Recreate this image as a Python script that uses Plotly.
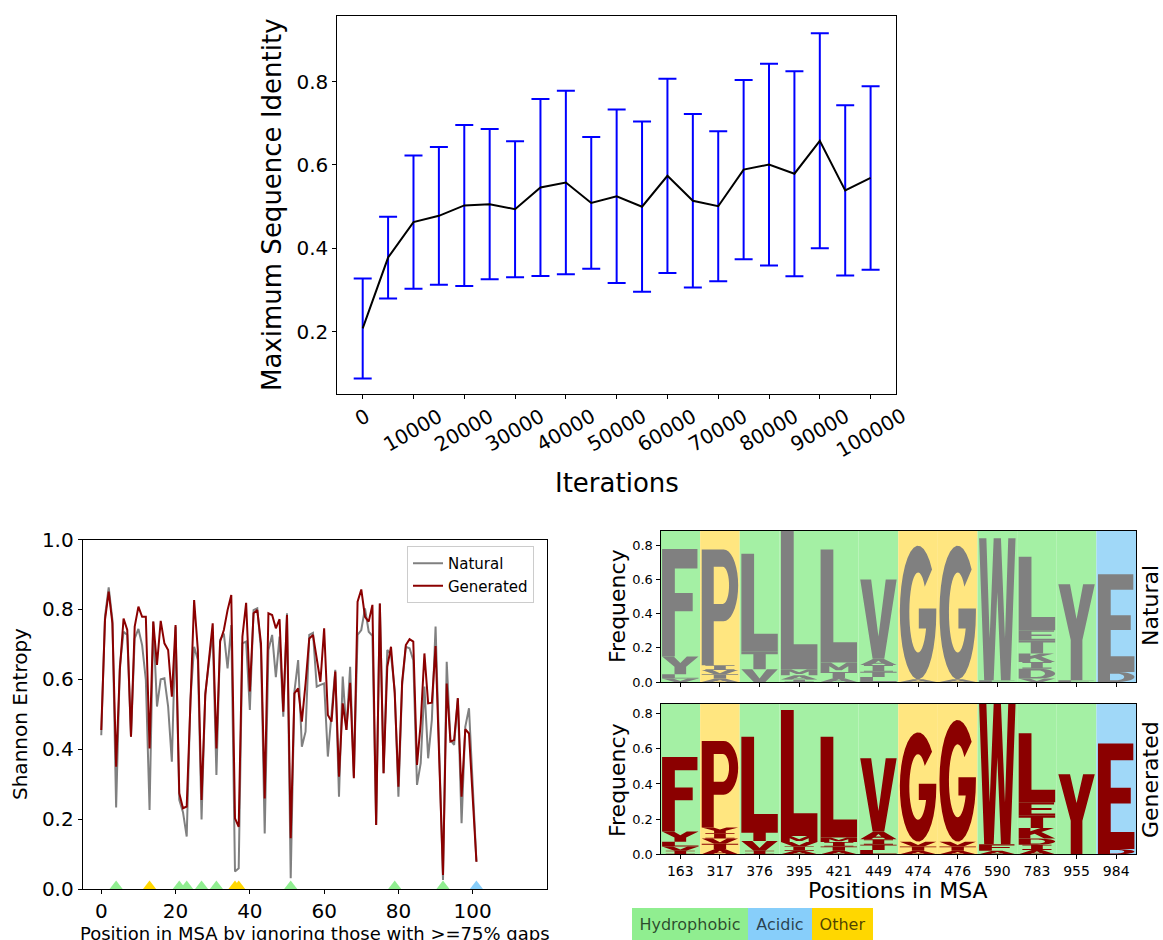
import math
import plotly.graph_objects as go

W, H = 1163, 940
FONT = "DejaVu Sans"


def fx(p):
    return p / W


def fy(p):
    return 1 - p / H


# ---------------- data ----------------
iterations = list(range(0, 100001, 5000))
identity_mean = [0.208, 0.378, 0.463, 0.478, 0.503, 0.506, 0.494, 0.546, 0.558, 0.509, 0.525,
                 0.500, 0.574, 0.514, 0.501, 0.589, 0.601, 0.579, 0.658, 0.539, 0.569]
identity_std = [0.120, 0.098, 0.160, 0.165, 0.193, 0.180, 0.163, 0.212, 0.220, 0.158, 0.208,
                0.204, 0.233, 0.208, 0.180, 0.215, 0.242, 0.246, 0.258, 0.204, 0.220]
iteration_ticks = list(range(0, 100001, 10000))

entropy_natural = [
    0.440, 0.780, 0.863, 0.770, 0.233, 0.637, 0.736, 0.727, 0.436, 0.717,
    0.744, 0.698, 0.598, 0.226, 0.765, 0.522, 0.600, 0.603, 0.522, 0.364,
    0.750, 0.255, 0.220, 0.150, 0.541, 0.693, 0.655, 0.199, 0.560, 0.655,
    0.736, 0.326, 0.713, 0.731, 0.631, 0.755, 0.050, 0.059, 0.703, 0.708,
    0.512, 0.798, 0.803, 0.684, 0.159, 0.684, 0.727, 0.606, 0.722, 0.493,
    0.789, 0.031, 0.565, 0.655, 0.407, 0.450, 0.727, 0.733, 0.579, 0.584,
    0.588, 0.379, 0.512, 0.627, 0.264, 0.608, 0.455, 0.636, 0.322, 0.727,
    0.741, 0.803, 0.736, 0.724, 0.183, 0.817, 0.331, 0.684, 0.670, 0.569,
    0.264, 0.584, 0.693, 0.689, 0.655, 0.298, 0.360, 0.579, 0.374, 0.484,
    0.751, 0.370, 0.026, 0.650, 0.426, 0.412, 0.546, 0.188, 0.464, 0.517,
    0.290, 0.078]
entropy_generated = [
    0.455, 0.770, 0.851, 0.760, 0.350, 0.627, 0.774, 0.741, 0.436, 0.751,
    0.808, 0.779, 0.779, 0.402, 0.765, 0.641, 0.767, 0.703, 0.684, 0.550,
    0.755, 0.274, 0.231, 0.236, 0.531, 0.827, 0.684, 0.255, 0.555, 0.665,
    0.760, 0.402, 0.708, 0.741, 0.798, 0.841, 0.202, 0.178, 0.722, 0.819,
    0.565, 0.789, 0.798, 0.703, 0.259, 0.789, 0.784, 0.746, 0.772, 0.507,
    0.784, 0.145, 0.560, 0.574, 0.479, 0.588, 0.717, 0.727, 0.655, 0.593,
    0.746, 0.498, 0.479, 0.622, 0.321, 0.531, 0.455, 0.590, 0.317, 0.822,
    0.857, 0.779, 0.765, 0.813, 0.183, 0.817, 0.331, 0.636, 0.693, 0.560,
    0.293, 0.593, 0.698, 0.715, 0.708, 0.355, 0.474, 0.674, 0.531, 0.533,
    0.695, 0.370, 0.040, 0.588, 0.422, 0.426, 0.546, 0.264, 0.457, 0.445,
    0.270, 0.078]

msa_positions = ["163", "317", "376", "395", "421", "449", "474", "476", "590", "783", "955", "984"]
site_index = [4, 13, 21, 23, 27, 31, 36, 37, 51, 79, 92, 101]
residue_class = ["Hydrophobic", "Other", "Hydrophobic", "Hydrophobic", "Hydrophobic", "Hydrophobic",
                 "Other", "Other", "Hydrophobic", "Hydrophobic", "Hydrophobic", "Acidic"]

# letter stacks per column, bottom to top: (residue, frequency)
natural_stacks = [
    [("V", 0.020), ("L", 0.025), ("Y", 0.105), ("F", 0.630)],
    [("A", 0.020), ("T", 0.025), ("V", 0.025), ("I", 0.028), ("P", 0.680)],
    [("V", 0.075), ("T", 0.105), ("L", 0.573)],
    [("I", 0.015), ("A", 0.025), ("M", 0.035), ("L", 0.813)],
    [("A", 0.024), ("T", 0.035), ("M", 0.055), ("L", 0.664)],
    [("L", 0.030), ("T", 0.030), ("I", 0.040), ("A", 0.037), ("V", 0.465)],
    [("A", 0.016), ("G", 0.784)],
    [("A", 0.016), ("G", 0.784)],
    [("F", 0.010), ("W", 0.833)],
    [("V", 0.020), ("D", 0.058), ("I", 0.040), ("K", 0.050), ("T", 0.077), ("E", 0.059), ("L", 0.431)],
    [("F", 0.010), ("Y", 0.563)],
    [("D", 0.059), ("E", 0.574)],
]
generated_stacks = [
    [("I", 0.020), ("V", 0.025), ("L", 0.027), ("Y", 0.057), ("F", 0.425)],
    [("A", 0.030), ("T", 0.030), ("V", 0.030), ("I", 0.030), ("Y", 0.032), ("P", 0.493)],
    [("I", 0.020), ("V", 0.055), ("T", 0.058), ("L", 0.536)],
    [("A", 0.020), ("I", 0.025), ("V", 0.025), ("M", 0.034), ("L", 0.717)],
    [("A", 0.020), ("T", 0.025), ("I", 0.025), ("M", 0.025), ("L", 0.574)],
    [("L", 0.025), ("T", 0.030), ("I", 0.030), ("A", 0.044), ("V", 0.417)],
    [("A", 0.020), ("T", 0.025), ("V", 0.027), ("G", 0.622)],
    [("A", 0.020), ("T", 0.025), ("V", 0.027), ("G", 0.692)],
    [("A", 0.020), ("F", 0.037), ("W", 0.798)],
    [("A", 0.025), ("I", 0.030), ("D", 0.035), ("K", 0.060), ("T", 0.070), ("E", 0.076), ("L", 0.392)],
    [("Y", 0.455)],
    [("D", 0.030), ("E", 0.601)],
]

class_colors = {"Hydrophobic": "#90ee90", "Acidic": "#87cefa", "Other": "#ffd700"}
class_bg = {"Hydrophobic": "#a4f0a4", "Acidic": "#a0d8f8", "Other": "#ffe680"}


# ---------------- block glyphs in a unit box ----------------
def arc(cx, cy, rx, ry, a0, a1, n=18):
    pts = []
    for k in range(n + 1):
        t = math.radians(a0 + (a1 - a0) * k / n)
        pts.append((cx + rx * math.cos(t), cy + ry * math.sin(t)))
    return pts


def glyph(letter):
    if letter == "F":
        return [[(0, 0), (0.35, 0), (0.35, 0.42), (0.84, 0.42), (0.84, 0.59), (0.35, 0.59),
                 (0.35, 0.82), (0.97, 0.82), (0.97, 1), (0, 1)]]
    if letter == "L":
        return [[(0, 0), (1, 0), (1, 0.18), (0.35, 0.18), (0.35, 1), (0, 1)]]
    if letter == "E":
        return [[(0, 0), (1, 0), (1, 0.16), (0.35, 0.16), (0.35, 0.43), (0.9, 0.43), (0.9, 0.58),
                 (0.35, 0.58), (0.35, 0.84), (0.97, 0.84), (0.97, 1), (0, 1)]]
    if letter == "T":
        return [[(0.33, 0), (0.67, 0), (0.67, 0.83), (1, 0.83), (1, 1), (0, 1), (0, 0.83), (0.33, 0.83)]]
    if letter == "V":
        return [[(0, 1), (0.3, 1), (0.5, 0.28), (0.7, 1), (1, 1), (0.66, 0), (0.34, 0)]]
    if letter == "Y":
        return [[(0, 1), (0.32, 1), (0.5, 0.64), (0.68, 1), (1, 1), (0.66, 0.42), (0.66, 0),
                 (0.34, 0), (0.34, 0.42)]]
    if letter == "W":
        return [[(0, 1), (0.2, 1), (0.29, 0.3), (0.4, 1), (0.6, 1), (0.71, 0.3), (0.8, 1), (1, 1),
                 (0.86, 0), (0.6, 0), (0.5, 0.62), (0.4, 0), (0.14, 0)]]
    if letter == "K":
        return [[(0, 0), (0.32, 0), (0.32, 0.33), (0.44, 0.46), (0.7, 0), (1, 0), (0.62, 0.62),
                 (0.97, 1), (0.6, 1), (0.32, 0.68), (0.32, 1), (0, 1)]]
    if letter == "A":
        return [[(0, 0), (0.3, 0), (0.37, 0.2), (0.63, 0.2), (0.7, 0), (1, 0), (0.64, 1), (0.36, 1)],
                [(0.42, 0.36), (0.58, 0.36), (0.5, 0.68)]]
    if letter == "M":
        return [[(0, 0), (0.24, 0), (0.24, 0.62), (0.42, 0.18), (0.58, 0.18), (0.76, 0.62),
                 (0.76, 0), (1, 0), (1, 1), (0.72, 1), (0.5, 0.48), (0.28, 1), (0, 1)]]
    if letter == "I":
        return [[(0.1, 0), (0.9, 0), (0.9, 0.16), (0.66, 0.16), (0.66, 0.84), (0.9, 0.84), (0.9, 1),
                 (0.1, 1), (0.1, 0.84), (0.34, 0.84), (0.34, 0.16), (0.1, 0.16)]]
    if letter == "P":
        outer = [(0, 0), (0.33, 0), (0.33, 0.38), (0.6, 0.38)] + arc(0.6, 0.69, 0.4, 0.31, -90, 90) + [(0, 1)]
        inner = [(0.33, 0.53), (0.58, 0.53)] + arc(0.58, 0.69, 0.17, 0.16, -90, 90) + [(0.33, 0.85)]
        return [outer, inner]
    if letter == "D":
        outer = [(0, 0), (0.5, 0)] + arc(0.5, 0.5, 0.5, 0.5, -90, 90) + [(0, 1)]
        inner = [(0.33, 0.17), (0.5, 0.17)] + arc(0.5, 0.5, 0.22, 0.33, -90, 90) + [(0.33, 0.83)]
        return [outer, inner]
    if letter == "G":
        t_in = math.degrees(math.asin(-0.12 / 0.3))
        ring = arc(0.5, 0.5, 0.5, 0.5, 40, 360, 30)
        ring += [(1, 0.53), (0.52, 0.53), (0.52, 0.38)]
        ring += arc(0.5, 0.5, 0.24, 0.3, 360 + t_in, 40, 30)
        return [ring]
    return [[(0, 0), (1, 0), (1, 1), (0, 1)]]


def letter_shapes(stacks, color, xref, yref):
    shapes = []
    for i, stack in enumerate(stacks):
        base = 0.0
        for letter, h in stack:
            x0, w = i - 0.46, 0.92
            path = ""
            for ring in glyph(letter):
                pts = [f"{x0 + w * u:.4f},{base + h * v:.5f}" for u, v in ring]
                path += "M" + "L".join(pts) + "Z"
            shapes.append(dict(type="path", path=path, xref=xref, yref=yref, fillcolor=color,
                               line=dict(width=0), fillrule="evenodd", layer="above"))
            base += h
    return shapes


def column_backgrounds(ymax, xref, yref):
    return [dict(type="rect", xref=xref, yref=yref, x0=i - 0.5, x1=i + 0.5, y0=0, y1=ymax,
                 fillcolor=class_bg[c], line=dict(width=0), layer="below")
            for i, c in enumerate(residue_class)]


nat_max = max(sum(h for _, h in s) for s in natural_stacks)
gen_max = max(sum(h for _, h in s) for s in generated_stacks)

# ---------------- figure ----------------
fig = go.Figure()

fig.add_trace(go.Scatter(
    x=iterations, y=identity_mean, mode="lines",
    line=dict(color="black", width=2),
    error_y=dict(type="data", array=identity_std, visible=True, color="blue", thickness=2, width=9),
    xaxis="x", yaxis="y", showlegend=False, hoverinfo="skip"))

positions = list(range(len(entropy_natural)))
fig.add_trace(go.Scatter(x=positions, y=entropy_natural, mode="lines", name="Natural",
                         line=dict(color="#808080", width=2), xaxis="x2", yaxis="y2"))
fig.add_trace(go.Scatter(x=positions, y=entropy_generated, mode="lines", name="Generated",
                         line=dict(color="#8b0000", width=2), xaxis="x2", yaxis="y2"))
fig.add_trace(go.Scatter(
    x=site_index, y=[0] * len(site_index), mode="markers",
    marker=dict(symbol="triangle-up", size=17, color=[class_colors[c] for c in residue_class],
                line=dict(width=0)),
    xaxis="x2", yaxis="y2", showlegend=False, hoverinfo="skip"))

for xa, ya in (("x3", "y3"), ("x4", "y4")):
    fig.add_trace(go.Scatter(x=[0], y=[0], mode="markers", marker=dict(opacity=0),
                             xaxis=xa, yaxis=ya, showlegend=False, hoverinfo="skip"))

axis_common = dict(showline=True, linecolor="black", linewidth=1, mirror=True, ticks="outside",
                   ticklen=4, tickwidth=1, tickcolor="black", showgrid=False, zeroline=False,
                   automargin=False)

shapes = []
shapes += column_backgrounds(nat_max, "x3", "y3")
shapes += column_backgrounds(gen_max, "x4", "y4")
shapes += letter_shapes(natural_stacks, "#808080", "x3", "y3")
shapes += letter_shapes(generated_stacks, "#8b0000", "x4", "y4")

annotations = []
for t in iteration_ticks:
    annotations.append(dict(x=t, xref="x", y=fy(401), yref="paper", text=str(t), showarrow=False,
                            textangle=-30, xanchor="center", yanchor="top",
                            font=dict(family=FONT, size=20, color="black")))


def title_ann(text, x, y, size, angle=0):
    return dict(x=fx(x), y=fy(y), xref="paper", yref="paper", text=text, showarrow=False,
                textangle=angle, xanchor="center", yanchor="middle",
                font=dict(family=FONT, size=size, color="black"))


annotations += [
    title_ann("Maximum Sequence Identity", 272, 205, 26, -90),
    title_ann("Iterations", 617, 483, 26),
    title_ann("Shannon Entropy", 20, 714, 20, -90),
    title_ann("Position in MSA by ignoring those with >=75% gaps", 315, 933, 18),
    title_ann("Frequency", 617, 606, 22, -90),
    title_ann("Frequency", 617, 780, 22, -90),
    title_ann("Natural", 1150, 606, 22, -90),
    title_ann("Generated", 1150, 780, 22, -90),
    title_ann("Positions in MSA", 898, 890, 22),
]

# residue class key
key_boxes = [("Hydrophobic", 632, 748), ("Acidic", 748, 812), ("Other", 812, 873)]
for name, x0, x1 in key_boxes:
    annotations.append(dict(x=fx((x0 + x1) / 2), y=fy(924), xref="paper", yref="paper",
                            text=name, showarrow=False, xanchor="center", yanchor="middle",
                            width=x1 - x0, height=32, borderpad=0, borderwidth=0,
                            bgcolor=class_colors[name],
                            font=dict(family=FONT, size=16, color="rgba(0,0,0,0.7)")))

fig.update_layout(
    width=W, height=H, margin=dict(l=0, r=0, t=0, b=0, pad=0, autoexpand=False),
    paper_bgcolor="white", plot_bgcolor="white",
    font=dict(family=FONT, color="black"),
    xaxis=dict(domain=[fx(337.3), fx(896)], anchor="y", range=[-5000, 105000],
               tickvals=iteration_ticks, showticklabels=False, **axis_common),
    yaxis=dict(domain=[fy(394.3), fy(15.7)], anchor="x", range=[0.050, 0.958],
               tickvals=[0.2, 0.4, 0.6, 0.8], tickformat=".1f",
               tickfont=dict(size=20), **axis_common),
    xaxis2=dict(domain=[fx(82.7), fx(547)], anchor="y2", range=[-5, 120],
                tickvals=[0, 20, 40, 60, 80, 100], tickfont=dict(size=20), **axis_common),
    yaxis2=dict(domain=[fy(889), fy(539.5)], anchor="x2", range=[0, 1],
                tickvals=[0, 0.2, 0.4, 0.6, 0.8, 1.0], tickformat=".1f",
                tickfont=dict(size=20), **axis_common),
    xaxis3=dict(domain=[fx(660.5), fx(1136)], anchor="y3", range=[-0.5, 11.5],
                tickvals=list(range(12)), ticktext=msa_positions, showticklabels=False, **axis_common),
    yaxis3=dict(domain=[fy(682), fy(530.7)], anchor="x3", range=[0, nat_max],
                tickvals=[0, 0.2, 0.4, 0.6, 0.8], tickformat=".1f",
                tickfont=dict(size=13), **axis_common),
    xaxis4=dict(domain=[fx(660.5), fx(1136)], anchor="y4", range=[-0.5, 11.5],
                tickvals=list(range(12)), ticktext=msa_positions,
                tickfont=dict(size=14), **axis_common),
    yaxis4=dict(domain=[fy(854.3), fy(704)], anchor="x4", range=[0, gen_max],
                tickvals=[0, 0.2, 0.4, 0.6, 0.8], tickformat=".1f",
                tickfont=dict(size=13), **axis_common),
    legend=dict(x=fx(407), y=fy(546), xanchor="left", yanchor="top",
                bgcolor="white", bordercolor="#cccccc", borderwidth=1,
                font=dict(family=FONT, size=15)),
    shapes=shapes,
    annotations=annotations,
)

fig.write_html("out.html")
